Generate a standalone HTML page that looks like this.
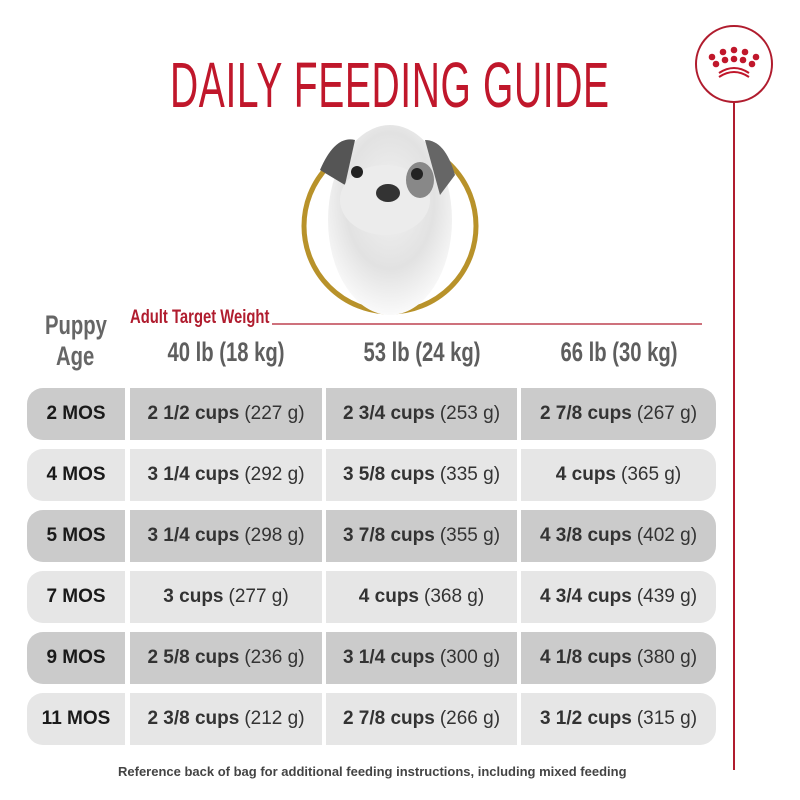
<!DOCTYPE html>
<html><head><meta charset="utf-8"><style>
*{margin:0;padding:0;box-sizing:border-box}
body{width:800px;height:800px;background:#fff;position:relative;overflow:hidden;font-family:"Liberation Sans",sans-serif}
.abs{position:absolute}
.t{position:absolute;white-space:nowrap;transform-origin:0 0}
.title{left:170px;top:48px;font-size:64px;color:#c0172b;transform:scaleX(0.61);letter-spacing:1px}
.cell{position:absolute;height:52px;display:flex;align-items:center;justify-content:center;font-size:19px;color:#1a1a1a;white-space:nowrap}
.cell b{font-weight:bold;margin-right:5px}
.cell span{font-weight:normal;color:#333}
.inner{display:inline-block}
.d{background:#cbcbcb}.l{background:#e6e6e6}
.hdr{position:absolute;top:337px;font-size:27px;font-weight:bold;color:#5e5e5e;white-space:nowrap;transform:scaleX(0.75);transform-origin:50% 0;text-align:center;width:200px}
</style></head><body>
<div class="t title">DAILY FEEDING GUIDE</div>
<svg class="abs" style="left:0;top:0" width="800" height="800">
<circle cx="734" cy="64" r="38" fill="none" stroke="#b01c2e" stroke-width="2"/>
<line x1="734" y1="102" x2="734" y2="770" stroke="#b01c2e" stroke-width="2"/>
<g fill="#c0172b">
<circle cx="712" cy="57" r="3.3"/><circle cx="723" cy="52" r="3.3"/><circle cx="734" cy="50" r="3.3"/><circle cx="745" cy="52" r="3.3"/><circle cx="756" cy="57" r="3.3"/>
<circle cx="716" cy="64" r="3.3"/><circle cx="725" cy="60" r="3.3"/><circle cx="734" cy="59" r="3.3"/><circle cx="743" cy="60" r="3.3"/><circle cx="752" cy="64" r="3.3"/>
</g>
<path d="M719 73 Q734 63 749 73" fill="none" stroke="#c0172b" stroke-width="2"/>
<path d="M719 77 Q734 67 749 77" fill="none" stroke="#c0172b" stroke-width="2"/>
<defs><radialGradient id="g" cx="50%" cy="40%" r="60%"><stop offset="0" stop-color="#f2f2f2"/><stop offset="0.6" stop-color="#e2e2e2"/><stop offset="1" stop-color="#fafafa"/></radialGradient></defs>
<circle cx="390" cy="226" r="86" fill="#fff" stroke="#b8922a" stroke-width="5"/>
<ellipse cx="390" cy="220" rx="62" ry="95" fill="url(#g)"/>
<path d="M320 170 Q335 135 355 140 L345 185 Z" fill="#555"/>
<path d="M425 140 Q445 140 455 175 L440 195 Z" fill="#666"/>
<ellipse cx="385" cy="200" rx="45" ry="35" fill="#ececec"/>
<ellipse cx="420" cy="180" rx="14" ry="18" fill="#888"/>
<circle cx="357" cy="172" r="6" fill="#222"/><circle cx="417" cy="174" r="6" fill="#222"/>
<ellipse cx="388" cy="193" rx="12" ry="9" fill="#333"/>
<line x1="272" y1="324" x2="702" y2="324" stroke="#b01c2e" stroke-width="1.2"/>
</svg>
<div class="t" style="left:130px;top:307px;font-size:19px;font-weight:bold;color:#b01c2e;transform:scaleX(0.78)">Adult Target Weight</div>
<div class="t" style="left:45px;top:310px;font-size:27px;font-weight:bold;color:#666;transform:scaleX(0.75)">Puppy</div>
<div class="t" style="left:56px;top:341px;font-size:27px;font-weight:bold;color:#666;transform:scaleX(0.75)">Age</div>
<div class="hdr" style="left:126px">40 lb (18 kg)</div>
<div class="hdr" style="left:322px">53 lb (24 kg)</div>
<div class="hdr" style="left:519px">66 lb (30 kg)</div>

<div id="rows"></div>
<script>
var R=[["2 MOS",["2 1/2 cups","(227 g)"],["2 3/4 cups","(253 g)"],["2 7/8 cups","(267 g)"]],
["4 MOS",["3 1/4 cups","(292 g)"],["3 5/8 cups","(335 g)"],["4 cups","(365 g)"]],
["5 MOS",["3 1/4 cups","(298 g)"],["3 7/8 cups","(355 g)"],["4 3/8 cups","(402 g)"]],
["7 MOS",["3 cups","(277 g)"],["4 cups","(368 g)"],["4 3/4 cups","(439 g)"]],
["9 MOS",["2 5/8 cups","(236 g)"],["3 1/4 cups","(300 g)"],["4 1/8 cups","(380 g)"]],
["11 MOS",["2 3/8 cups","(212 g)"],["2 7/8 cups","(266 g)"],["3 1/2 cups","(315 g)"]]];
var h="";
R.forEach(function(r,i){var y=388+i*61,c=i%2?"l":"d";
h+='<div class="cell '+c+'" style="left:27px;top:'+y+'px;width:98px;border-radius:16px 0 0 16px"><span class="inner" style="font-weight:bold;color:#1a1a1a">'+r[0]+'</span></div>';
var xs=[[130,192],[326,191],[521,195]];
for(var k=0;k<3;k++){h+='<div class="cell '+c+'" style="left:'+xs[k][0]+'px;top:'+y+'px;width:'+xs[k][1]+'px;'+(k==2?'border-radius:0 16px 16px 0':'')+'"><span class="inner"><b>'+r[k+1][0]+'</b><span>'+r[k+1][1]+'</span></span></div>';}
});
document.getElementById("rows").innerHTML=h;
</script>
<div class="t" style="left:118px;top:764px;font-size:13px;font-weight:bold;color:#444;transform:scaleX(1.0)">Reference back of bag for additional feeding instructions, including mixed feeding</div>
</body></html>
